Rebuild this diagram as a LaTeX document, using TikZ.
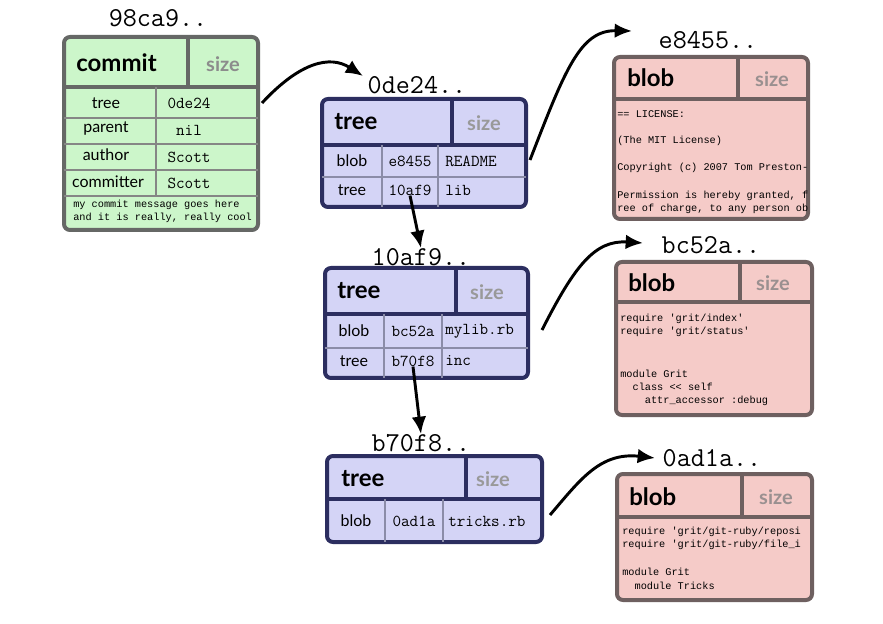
\documentclass[tikz,border=0pt]{standalone}
\usepackage{fontspec}
\setsansfont{Lato}
\newfontfamily\codefont[Ligatures=ResetAll]{Liberation Mono}
\usetikzlibrary{arrows.meta}

\definecolor{commitfill}{RGB}{204,246,202}
\definecolor{commitline}{RGB}{102,104,102}
\definecolor{treefill}{RGB}{212,212,246}
\definecolor{treeline}{RGB}{44,46,96}
\definecolor{blobfill}{RGB}{245,203,200}
\definecolor{blobline}{RGB}{110,96,96}

\begin{document}
\begin{tikzpicture}[x=0.75pt,y=-0.75pt,
	hashlbl/.style={inner sep=0pt,font=\fontsize{20.5}{22}\selectfont\ttfamily},
	kind/.style={anchor=west,inner sep=0pt,font=\fontsize{18}{20}\selectfont\sffamily\bfseries},
	sizelbl/.style={inner sep=0pt,font=\fontsize{15}{17}\selectfont\sffamily\bfseries},
	field/.style={inner sep=0pt,font=\fontsize{12}{14}\selectfont\sffamily},
	val/.style={inner sep=0pt,font=\fontsize{12.5}{14}\selectfont\ttfamily},
	code/.style={anchor=west,inner sep=0pt,font=\fontsize{7.7}{9}\selectfont\codefont},
	box/.style={line width=3pt,rounded corners=4.5pt},
	rule/.style={line width=1.5pt},
	link/.style={line width=2.2pt,-{Latex[length=13pt,width=11pt]}}]
	\fill[white] (0,0) rectangle (883,624);
	\useasboundingbox (0,0) rectangle (883,624);

	% commit
	\draw[box,fill=commitfill,draw=commitline] (64,37) rectangle (258,230);
	\draw[commitline,line width=3pt] (64,87) -- (258,87) (188,37) -- (188,87);
	\draw[rule,commitline!80] (64,118) -- (258,118) (64,144) -- (258,144) (64,170) -- (258,170) (64,196) -- (258,196) (156,87) -- (156,196);
	\node[hashlbl] (cmtlbl) at (158,18) {98ca9..};
	\node[kind] (cmtkind) at (76,63) {commit};
	\node[sizelbl,text=black!45] (cmtsize) at (223,64) {size};
	\node[field] (cmtf1) at (106,103) {tree};
	\node[field] (cmtf2) at (106,129) {parent};
	\node[field] (cmtf3) at (106,155) {author};
	\node[field] (cmtf4) at (108,182) {committer};
	\node[val] (cmtv1) at (189,103) {0de24};
	\node[val] (cmtv2) at (189,130) {nil};
	\node[val] (cmtv3) at (189,157) {Scott};
	\node[val] (cmtv4) at (189,183) {Scott};
	\node[code] (cmtmsg1) at (73,205) {my commit message goes here};
	\node[code] (cmtmsg2) at (73,218) {and it is really, really cool};

	% trees
	\draw[box,fill=treefill,draw=treeline] (322,99) rectangle (526,207);
	\draw[treeline,line width=3pt] (322,145) -- (526,145) (452,99) -- (452,145);
	\draw[rule,treeline!55] (322,177) -- (526,177) (382,145) -- (382,207) (438,145) -- (438,207);
	\node[hashlbl] (t1lbl) at (417,85) {0de24..};
	\node[kind] (t1kind) at (334,122) {tree};
	\node[sizelbl,text=black!40] (t1size) at (484,123) {size};
	\node[field] (t1f1) at (352,161) {blob};
	\node[field] (t1f2) at (352,190) {tree};
	\node[val] (t1v1) at (410,161) {e8455};
	\node[val] (t1hash) at (410,190) {10af9};
	\node[val,anchor=west] (t1n1) at (445,161) {README};
	\node[val,anchor=west] (t1n2) at (445,190) {lib};

	\draw[box,fill=treefill,draw=treeline] (325,268) rectangle (528,378);
	\draw[treeline,line width=3pt] (325,314) -- (528,314) (456,268) -- (456,314);
	\draw[rule,treeline!55] (325,348) -- (528,348) (384,314) -- (384,378) (442,314) -- (442,378);
	\node[hashlbl] (t2lbl) at (421,257) {10af9..};
	\node[kind] (t2kind) at (337,291) {tree};
	\node[sizelbl,text=black!40] (t2size) at (487,292) {size};
	\node[field] (t2f1) at (354,331) {blob};
	\node[field] (t2f2) at (354,361) {tree};
	\node[val] (t2v1) at (413,331) {bc52a};
	\node[val] (t2hash) at (413,361) {b70f8};
	\node[val,anchor=west] (t2n1) at (445,331) {mylib.rb};
	\node[val,anchor=west] (t2n2) at (445,361) {inc};

	\draw[box,fill=treefill,draw=treeline] (327,456) rectangle (542,542);
	\draw[treeline,line width=3pt] (327,499) -- (542,499) (466,456) -- (466,499);
	\draw[rule,treeline!55] (385,499) -- (385,542) (443,499) -- (443,542);
	\node[hashlbl] (t3lbl) at (421,443) {b70f8..};
	\node[kind] (t3kind) at (341,479) {tree};
	\node[sizelbl,text=black!40] (t3size) at (493,479) {size};
	\node[field] (t3f1) at (356,521) {blob};
	\node[val] (t3v1) at (414,521) {0ad1a};
	\node[val,anchor=west] (t3n1) at (448,521) {tricks.rb};

	% blobs
	\draw[box,fill=blobfill,draw=blobline] (614,57) rectangle (808,219);
	\draw[blobline,line width=3pt] (614,99) -- (808,99) (738,57) -- (738,99);
	\node[hashlbl] (b1lbl) at (708,40) {e8455..};
	\node[kind] (b1kind) at (627,78) {blob};
	\node[sizelbl,text=blobline!70] (b1size) at (772,79) {size};
	\node[code] (b1l1) at (617,114) {== LICENSE:};
	\node[code] (b1l2) at (617,141) {(The MIT License)};
	\node[code] (b1l3) at (617,168) {Copyright (c) 2007 Tom Preston-};
	\node[code] (b1l4) at (617,196) {Permission is hereby granted, f};
	\node[code] (b1l5) at (617,209) {ree of charge, to any person ob};

	\draw[box,fill=blobfill,draw=blobline] (616,262) rectangle (812,415);
	\draw[blobline,line width=3pt] (616,302) -- (812,302) (740,262) -- (740,302);
	\node[hashlbl] (b2lbl) at (711,245) {bc52a..};
	\node[kind] (b2kind) at (628,283) {blob};
	\node[sizelbl,text=blobline!70] (b2size) at (773,283) {size};
	\node[code] (b2l1) at (620,319) {require 'grit/index'};
	\node[code] (b2l2) at (620,332) {require 'grit/status'};
	\node[code] (b2l3) at (620,374) {module Grit};
	\node[code] (b2l4) at (620,387) {\ \ class << self};
	\node[code] (b2l5) at (620,401) {\ \ \ \ attr\_accessor :debug};

	\draw[box,fill=blobfill,draw=blobline] (617,474) rectangle (812,600);
	\draw[blobline,line width=3pt] (617,517) -- (812,517) (742,474) -- (742,517);
	\node[hashlbl] (b3lbl) at (712,458) {0ad1a..};
	\node[kind] (b3kind) at (629,497) {blob};
	\node[sizelbl,text=blobline!70] (b3size) at (776,497) {size};
	\node[code] (b3l1) at (622,532) {require 'grit/git-ruby/reposi};
	\node[code] (b3l2) at (622,545) {require 'grit/git-ruby/file\_i};
	\node[code] (b3l3) at (622,572) {module Grit};
	\node[code] (b3l4) at (622,586) {\ \ module Tricks};

	% links
	\coordinate (cmtout) at (262,103);
	\coordinate (t1in) at (363,76);
	\coordinate (t1out) at (530,160);
	\coordinate (b1in) at (632,31);
	\coordinate (t2out) at (542,330);
	\coordinate (b2in) at (643,243);
	\coordinate (t3out) at (550,515);
	\coordinate (b3in) at (655,458);

	\draw[link] (cmtout) .. controls (300,62) and (330,55) .. (t1in);
	\draw[link] (t1out) .. controls (565,70) and (580,30) .. (b1in);
	\draw[link] (t2out) .. controls (575,265) and (595,240) .. (b2in);
	\draw[link] (t3out) .. controls (580,480) and (600,452) .. (b3in);
	\draw[link] (t1hash.south) -- (t2lbl.north);
	\draw[link] (t2hash.south) -- (t3lbl.north);
\end{tikzpicture}
\end{document}
